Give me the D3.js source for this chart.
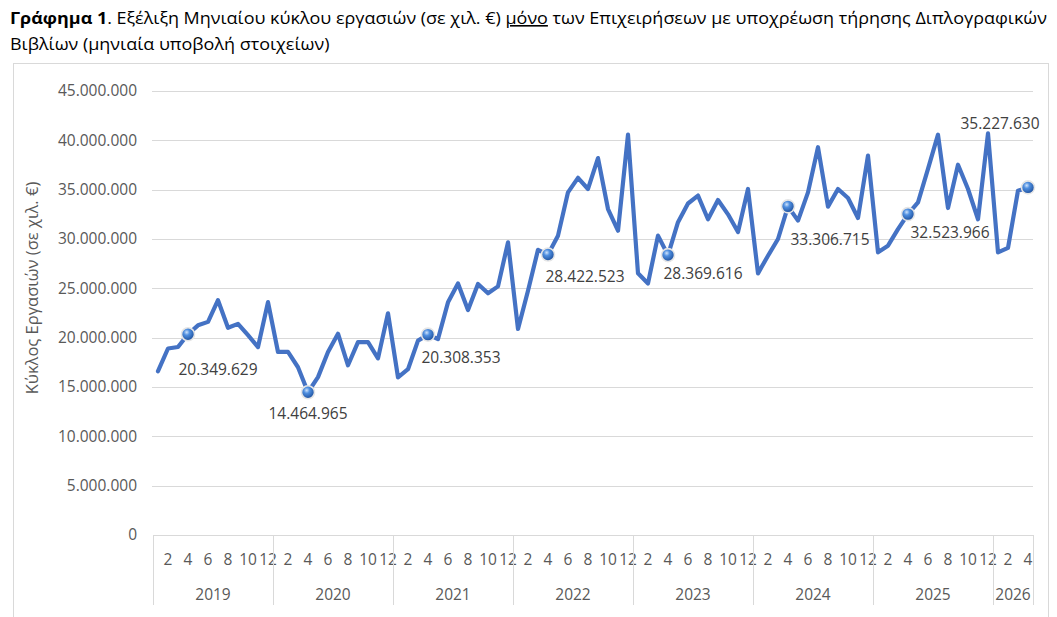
<!DOCTYPE html>
<html>
<head>
<meta charset="utf-8">
<script src="https://cdn.jsdelivr.net/npm/d3@7"></script>
<style>
  body { margin: 0; background: #fff; }
  text { font-family: "Open Sans", "Noto Sans", sans-serif; }
</style>
</head>
<body>
<div id="chart"></div>
<script>
var w = 1057, h = 617;

// Data: monthly turnover (thousand €), Jan 2019 - Apr 2026
var years = ["2019", "2020", "2021", "2022", "2023", "2024", "2025", "2026"];
var monthTicks = [2, 4, 6, 8, 10, 12];
var yTicks = [0, 5000000, 10000000, 15000000, 20000000, 25000000, 30000000, 35000000, 40000000, 45000000];
var values2019 = [16600000, 18900000, 19050000, 20349629, 21250000, 21600000, 23800000, 21000000, 21400000, 20250000, 19050000, 23600000];
var values2020 = [18550000, 18550000, 17000000, 14464965, 16000000, 18550000, 20400000, 17200000, 19550000, 19550000, 17900000, 22470000];
var values2021 = [15980000, 16800000, 19700000, 20308353, 19860000, 23580000, 25500000, 22800000, 25440000, 24500000, 25200000, 29660000];
var values2022 = [20880000, 24760000, 28900000, 28422523, 30340000, 34730000, 36200000, 35070000, 38200000, 33040000, 30840000, 40570000];
var values2023 = [26520000, 25500000, 30340000, 28369616, 31700000, 33600000, 34400000, 32000000, 33950000, 32500000, 30700000, 35070000];
var values2024 = [26520000, 28300000, 30000000, 33306715, 31860000, 34730000, 39300000, 33280000, 35070000, 34160000, 32130000, 38450000];
var values2025 = [28650000, 29320000, 31000000, 32523966, 33720000, 37100000, 40570000, 33140000, 37530000, 35070000, 32000000, 40700000];
var values2026 = [28650000, 29100000, 34900000, 35227630];
var labelledMonth = 4; // April of every year carries a marker and a label

// Label placement (offset of label centre from its marker)
var labelOffsets = [[30, 35], [0, 21], [33, 23], [37, 22], [35, 18], [42, 33], [42, 18], [-28, -64]];

var series = [values2019, values2020, values2021, values2022, values2023, values2024, values2025, values2026];
var dataset = [];
series.forEach(function(vals, yi) {
  vals.forEach(function(v, mi) {
    dataset.push({ year: years[yi], month: mi + 1, value: v, idx: dataset.length });
  });
});

var gr = d3.formatLocale({ decimal: ",", thousands: ".", grouping: [3], currency: ["", "€"] });
var fmt = gr.format(",d");

var plot = { left: 153, right: 1033, top: 91, bottom: 535 };

var xScale = d3.scaleBand()
  .domain(dataset.map(function(d) { return d.idx; }))
  .range([plot.left, plot.right])
  .padding(0);
var bw = xScale.bandwidth();
function xc(i) { return xScale(i) + bw / 2; }

var yScale = d3.scaleLinear()
  .domain([0, 45000000])
  .range([plot.bottom, plot.top]);

var svg = d3.select("#chart").append("svg")
  .attr("width", w)
  .attr("height", h);

var defs = svg.append("defs");
var grad = defs.append("radialGradient")
  .attr("id", "ball")
  .attr("cx", "40%").attr("cy", "35%").attr("r", "65%");
grad.append("stop").attr("offset", "0%").attr("stop-color", "#cfe3fb");
grad.append("stop").attr("offset", "35%").attr("stop-color", "#4f8fe0");
grad.append("stop").attr("offset", "100%").attr("stop-color", "#1d4f9c");

// Chart frame
svg.append("rect")
  .attr("x", 13.5).attr("y", 63.5)
  .attr("width", 1035).attr("height", 600)
  .attr("fill", "#fff")
  .attr("stroke", "#d9d9d9");

// Title
var title = svg.append("g").attr("class", "title");
var t1 = title.append("text").attr("x", 10).attr("y", 24).attr("font-size", 16).attr("fill", "#000");
t1.append("tspan").attr("font-weight", "bold").text("Γράφημα 1");
t1.append("tspan").text(". Εξέλιξη Μηνιαίου κύκλου εργασιών (σε χιλ. €) ");
t1.append("tspan").attr("text-decoration", "underline").text("μόνο");
t1.append("tspan").text(" των Επιχειρήσεων με υποχρέωση τήρησης Διπλογραφικών");
var t2 = title.append("text").attr("x", 10).attr("y", 50).attr("font-size", 16).attr("fill", "#000")
  .text("Βιβλίων (μηνιαία υποβολή στοιχείων)");
var ratio = 1037 / t1.node().getComputedTextLength();
t1.attr("textLength", 1037).attr("lengthAdjust", "spacingAndGlyphs");
t2.attr("textLength", t2.node().getComputedTextLength() * ratio).attr("lengthAdjust", "spacingAndGlyphs");

// Gridlines
svg.append("g")
  .selectAll("line")
  .data(yTicks.filter(function(d) { return d > 0; }))
  .enter()
  .append("line")
  .attr("x1", plot.left - 1).attr("x2", plot.right)
  .attr("y1", function(d) { return Math.round(yScale(d)) + 0.5; })
  .attr("y2", function(d) { return Math.round(yScale(d)) + 0.5; })
  .attr("stroke", "#d9d9d9")
  .attr("stroke-width", 1);

// Y axis labels
var yAxis = d3.axisLeft(yScale)
  .tickValues(yTicks)
  .tickFormat(fmt)
  .tickSize(0)
  .tickPadding(16);
var yg = svg.append("g")
  .attr("class", "y_axis")
  .attr("transform", "translate(" + plot.left + ",0)")
  .call(yAxis);
yg.select(".domain").remove();
yg.selectAll("text")
  .attr("font-size", 15.5)
  .attr("fill", "#595959")
  .style("font-family", "'Open Sans', sans-serif");

// Y axis title
svg.append("text")
  .attr("transform", "translate(38,288) rotate(-90)")
  .attr("text-anchor", "middle")
  .attr("font-size", 16.5)
  .attr("fill", "#595959")
  .text("Κύκλος Εργασιών (σε χιλ. €)");

// X axis: baseline, month labels, year labels and separators
var xg = svg.append("g").attr("class", "x_axis");
xg.append("line")
  .attr("x1", plot.left).attr("x2", plot.right)
  .attr("y1", plot.bottom + 0.5).attr("y2", plot.bottom + 0.5)
  .attr("stroke", "#d9d9d9");

xg.selectAll(".month")
  .data(dataset.filter(function(d) { return monthTicks.indexOf(d.month) >= 0; }))
  .enter()
  .append("text")
  .attr("class", "month")
  .attr("x", function(d) { return xc(d.idx); })
  .attr("y", 565)
  .attr("text-anchor", "middle")
  .attr("font-size", 15.5)
  .attr("fill", "#595959")
  .text(function(d) { return d.month; });

var yearSpans = years.map(function(y) {
  var ds = dataset.filter(function(d) { return d.year === y; });
  return {
    year: y,
    x0: xScale(ds[0].idx),
    x1: xScale(ds[ds.length - 1].idx) + bw
  };
});

xg.selectAll(".sep")
  .data([plot.left].concat(yearSpans.map(function(s) { return s.x1; })))
  .enter()
  .append("line")
  .attr("class", "sep")
  .attr("x1", function(d) { return Math.round(d) + 0.5; })
  .attr("x2", function(d) { return Math.round(d) + 0.5; })
  .attr("y1", plot.bottom).attr("y2", 605)
  .attr("stroke", "#d9d9d9");

xg.selectAll(".year")
  .data(yearSpans)
  .enter()
  .append("text")
  .attr("class", "year")
  .attr("x", function(d) { return (d.x0 + d.x1) / 2; })
  .attr("y", 600)
  .attr("text-anchor", "middle")
  .attr("font-size", 15.5)
  .attr("fill", "#595959")
  .text(function(d) { return d.year; });

// Line
var line = d3.line()
  .x(function(d) { return xc(d.idx); })
  .y(function(d) { return yScale(d.value); });

svg.append("path")
  .datum(dataset)
  .attr("d", line)
  .attr("fill", "none")
  .attr("stroke", "#4472c4")
  .attr("stroke-width", 4.2)
  .attr("stroke-linejoin", "round")
  .attr("stroke-linecap", "round");

// Markers + labels
var marked = dataset.filter(function(d) { return d.month === labelledMonth; });

svg.append("g")
  .selectAll("circle")
  .data(marked)
  .enter()
  .append("circle")
  .attr("cx", function(d) { return xc(d.idx); })
  .attr("cy", function(d) { return yScale(d.value); })
  .attr("r", 6.5)
  .attr("fill", "url(#ball)")
  .attr("stroke", "#e6e6e6")
  .attr("stroke-width", 1.6);

svg.append("g")
  .selectAll("text")
  .data(marked)
  .enter()
  .append("text")
  .attr("x", function(d, i) { return xc(d.idx) + labelOffsets[i][0]; })
  .attr("y", function(d, i) { return yScale(d.value) + labelOffsets[i][1]; })
  .attr("dy", "0.36em")
  .attr("text-anchor", "middle")
  .attr("font-size", 15.5)
  .attr("fill", "#404040")
  .text(function(d) { return fmt(d.value); });
</script>
</body>
</html>
